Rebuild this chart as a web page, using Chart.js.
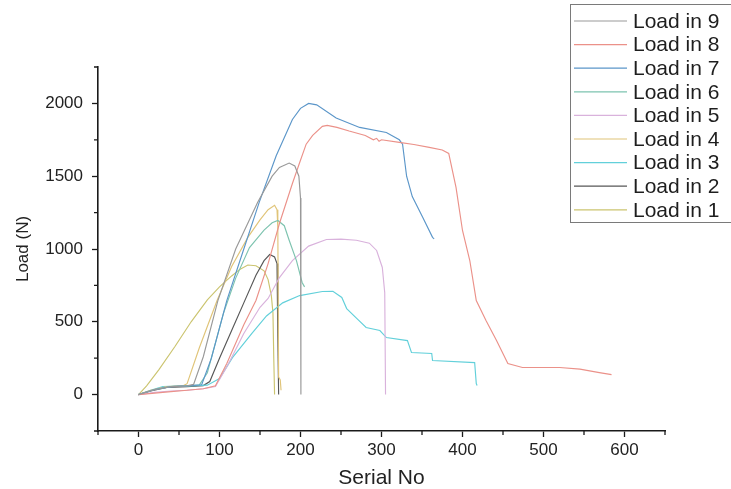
<!DOCTYPE html>
<html>
<head>
<meta charset="utf-8">
<script src="https://cdn.jsdelivr.net/npm/chart.js@4/dist/chart.umd.min.js"></script>
<style>
  body { margin: 0; background: #fff; }
</style>
</head>
<body>
<canvas id="loadChart" width="731" height="489"></canvas>
<script>
// values (serial no / load in N)
const load9X = [0, 20, 40, 60, 68, 80, 98, 120, 147, 165, 174, 186, 193, 198, 200, 200.5];
const load9Y = [0, 35, 55, 60, 70, 260, 646, 1000, 1320, 1500, 1560, 1590, 1570, 1500, 1350, 0];

const load8X = [0, 20, 40, 60, 80, 95, 109, 130, 145, 160, 174, 190, 199, 207, 215, 227, 233, 245, 260, 280, 290, 294, 297, 300, 322, 340, 359, 375, 383, 392, 400, 409, 417, 429, 442, 456, 474, 520, 545, 569, 584];
const load8Y = [0, 10, 20, 30, 40, 60, 213, 480, 646, 900, 1175, 1450, 1594, 1720, 1780, 1842, 1849, 1835, 1810, 1780, 1750, 1760, 1740, 1750, 1732, 1718, 1698, 1680, 1656, 1423, 1127, 921, 646, 509, 371, 213, 186, 186, 175, 151, 137];

const load7X = [0, 20, 40, 60, 78, 90, 109, 130, 149, 170, 190, 200, 210, 220, 244, 273, 306, 322, 326, 331, 338, 351, 363, 365];
const load7Y = [0, 35, 55, 60, 68, 250, 646, 1000, 1320, 1640, 1890, 1966, 2000, 1990, 1900, 1835, 1800, 1750, 1720, 1500, 1360, 1216, 1080, 1070];

const load6X = [0, 20, 40, 60, 75, 85, 105, 120, 137, 155, 165, 172, 180, 186, 195, 202, 205];
const load6Y = [0, 35, 55, 60, 65, 150, 560, 800, 1010, 1130, 1180, 1196, 1160, 1060, 920, 770, 740];

const load5X = [0, 20, 40, 60, 80, 95, 110, 130, 150, 160, 174, 190, 210, 232, 250, 269, 285, 294, 301, 304, 305];
const load5Y = [0, 15, 25, 30, 40, 55, 200, 420, 600, 660, 804, 920, 1020, 1065, 1068, 1060, 1040, 990, 873, 700, 0];

const load4X = [0, 15, 35, 55, 60, 75, 97, 115, 135, 150, 160, 168, 171, 172, 173, 175, 176];
const load4Y = [0, 30, 55, 60, 75, 320, 646, 880, 1080, 1200, 1270, 1300, 1270, 1150, 120, 100, 30];

const load3X = [0, 15, 30, 60, 85, 100, 116, 140, 158, 178, 199, 227, 240, 251, 257, 270, 281, 298, 306, 332, 337, 362, 363, 415, 417, 418];
const load3Y = [0, 30, 55, 60, 65, 110, 254, 420, 540, 630, 680, 708, 710, 667, 591, 520, 461, 440, 392, 371, 289, 282, 234, 220, 76, 62];

const load2X = [0, 15, 35, 60, 80, 88, 100, 115, 130, 145, 155, 162, 168, 171, 172, 173];
const load2Y = [0, 25, 50, 55, 62, 90, 250, 440, 630, 820, 920, 962, 945, 900, 400, 0];

const load1X = [0, 10, 25, 45, 65, 85, 100, 115, 125, 135, 145, 155, 160, 164, 166, 167, 168];
const load1Y = [0, 60, 170, 330, 500, 650, 740, 815, 860, 890, 885, 850, 790, 680, 560, 250, 0];

const seriesNames = ["Load in 9", "Load in 8", "Load in 7", "Load in 6", "Load in 5", "Load in 4", "Load in 3", "Load in 2", "Load in 1"];
const seriesColors = ["#999999", "#eb9189", "#5b96c9", "#7dc3af", "#d9b2dc", "#e0c478", "#62d0da", "#575757", "#cbc46f"];
const seriesX = [load9X, load8X, load7X, load6X, load5X, load4X, load3X, load2X, load1X];
const seriesY = [load9Y, load8Y, load7Y, load6Y, load5Y, load4Y, load3Y, load2Y, load1Y];

const textFont = "'Liberation Sans', Arial, sans-serif";

// legend drawn by hand, it sits inside the plot like in the original
const legendBox = {
  id: "legendBox",
  afterDraw(chart) {
    const ctx = chart.ctx;
    ctx.save();
    ctx.fillStyle = "#fff";
    ctx.fillRect(570, 4, 170, 218);
    ctx.strokeStyle = "#7a7a7a";
    ctx.lineWidth = 1;
    ctx.strokeRect(570.5, 4.5, 170, 218);
    ctx.font = "21px " + textFont;
    ctx.textBaseline = "middle";
    chart.data.datasets.forEach(function (ds, i) {
      const y = 21 + i * 23.6;
      ctx.strokeStyle = ds.borderColor;
      ctx.lineWidth = 1.2;
      ctx.beginPath();
      ctx.moveTo(574, y);
      ctx.lineTo(627, y);
      ctx.stroke();
      ctx.fillStyle = "#1e1e1e";
      ctx.fillText(ds.label, 633, y + 1);
    });
    ctx.restore();
  },
};

// short minor ticks (the library draws the long major ones)
const minorTicks = {
  id: "minorTicks",
  afterDraw(chart) {
    const ctx = chart.ctx;
    const xs = chart.scales.x;
    const ys = chart.scales.y;
    ctx.save();
    ctx.strokeStyle = "#1a1a1a";
    ctx.lineWidth = 1.3;
    ctx.beginPath();
    xs.ticks.forEach(function (t) {
      if (t.value % 100 !== 0) {
        const px = xs.getPixelForValue(t.value);
        ctx.moveTo(px, xs.top);
        ctx.lineTo(px, xs.top + 4);
      }
    });
    ys.ticks.forEach(function (t) {
      if (t.value % 500 !== 0) {
        const py = ys.getPixelForValue(t.value);
        ctx.moveTo(ys.right, py);
        ctx.lineTo(ys.right - 4, py);
      }
    });
    ctx.stroke();
    ctx.restore();
  },
};

const datasets = seriesNames.map(function (name, i) {
  return {
    label: name,
    data: seriesX[i].map(function (x, j) {
      return { x: x, y: seriesY[i][j] };
    }),
    borderColor: seriesColors[i],
    borderWidth: 1.15,
    pointRadius: 0,
    tension: 0,
    fill: false,
  };
});

function majorTickColor(ctx, step) {
  return ctx.tick && ctx.tick.value % step === 0 ? "#1a1a1a" : "rgba(0,0,0,0)";
}

new Chart(document.getElementById("loadChart").getContext("2d"), {
  type: "line",
  data: { datasets: datasets },
  plugins: [minorTicks, legendBox],
  options: {
    responsive: false,
    devicePixelRatio: 1,
    animation: false,
    layout: { padding: { top: 67, right: 66, left: 0, bottom: 0 } },
    plugins: {
      legend: { display: false },
      tooltip: { enabled: false },
    },
    scales: {
      x: {
        type: "linear",
        min: -50,
        max: 650,
        afterFit: function (s) { s.height = 58; },
        border: { color: "#1a1a1a", width: 1.6 },
        grid: {
          drawOnChartArea: false,
          tickLength: 6,
          tickWidth: 1.3,
          tickColor: function (ctx) { return majorTickColor(ctx, 100); },
        },
        ticks: {
          stepSize: 50,
          autoSkip: false,
          maxRotation: 0,
          padding: 3,
          color: "#222",
          font: { family: textFont, size: 17 },
          callback: function (v) {
            return v % 100 === 0 && v >= 0 && v <= 600 ? String(v) : "";
          },
        },
        title: {
          display: true,
          text: "Serial No",
          color: "#222",
          font: { family: textFont, size: 21, lineHeight: 1 },
          padding: { top: 0, bottom: 0 },
        },
      },
      y: {
        min: -250,
        max: 2250,
        afterFit: function (s) { s.width = 98; },
        border: { color: "#1a1a1a", width: 1.6 },
        grid: {
          drawOnChartArea: false,
          tickLength: 6,
          tickWidth: 1.3,
          tickColor: function (ctx) { return majorTickColor(ctx, 500); },
        },
        ticks: {
          stepSize: 250,
          autoSkip: false,
          padding: 9,
          color: "#222",
          font: { family: textFont, size: 17 },
          callback: function (v) {
            return v % 500 === 0 && v >= 0 && v <= 2000 ? String(v) : "";
          },
        },
        title: {
          display: true,
          text: "Load (N)",
          color: "#222",
          font: { family: textFont, size: 17, lineHeight: 1.2 },
          padding: { top: 13, bottom: 0 },
        },
      },
    },
  },
});
</script>
</body>
</html>
